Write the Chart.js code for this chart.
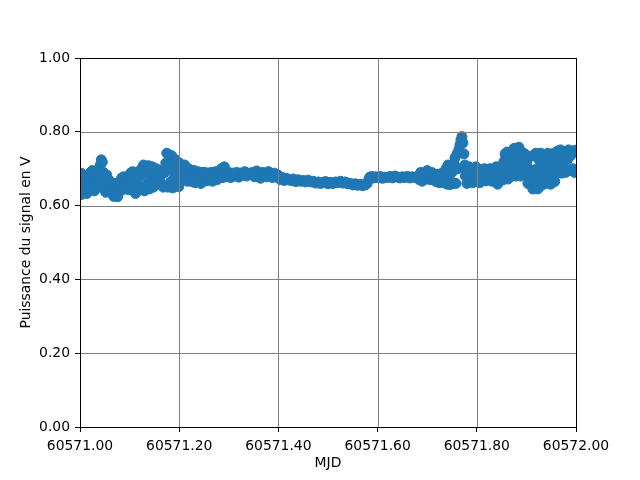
<!DOCTYPE html>
<html>
<head>
<meta charset="utf-8">
<script src="https://cdn.jsdelivr.net/npm/chart.js@4/dist/chart.umd.min.js"></script>
<style>
html,body{margin:0;padding:0;background:#fff;}
#wrap{width:640px;height:480px;}
</style>
</head>
<body>
<div id="wrap"><canvas id="c" width="640" height="480"></canvas></div>
<script>
// ---- data ----
const mjdBase = 60571;
const dayFraction = [
0.000,0.002,0.003,0.006,0.008,0.010,0.012,0.014,0.017,0.019,0.021,0.023,0.025,0.027,0.029,0.031,
0.033,0.035,0.037,0.039,0.041,0.043,0.045,0.047,0.048,0.050,0.052,0.054,0.056,
0.058,0.060,0.062,0.064,0.066,0.068,0.070,0.072,0.074,0.076,0.078,0.080,0.082,
0.084,0.086,0.088,0.090,0.092,0.094,0.096,0.098,
0.100,0.102,0.104,0.106,0.108,0.110,0.112,0.114,0.116,0.118,0.120,0.122,
0.124,0.126,0.128,0.130,0.132,0.134,0.136,0.138,0.140,0.142,0.144,0.146,0.148,0.150,
0.152,0.154,0.156,0.158,0.160,0.162,0.164,0.166,0.168,
0.171,0.173,0.175,0.177,0.179,0.181,0.183,0.185,0.187,0.189,0.191,
0.193,0.195,0.197,0.199,0.201,
0.203,0.205,0.207,0.209,0.211,0.213,0.215,0.217,0.219,0.221,
0.223,0.226,0.228,0.230,0.232,0.235,0.237,0.239,0.242,0.244,0.246,
0.249,0.252,0.255,0.258,0.261,0.264,0.267,0.270,0.273,0.276,0.279,
0.282,0.285,0.288,0.291,0.294,
0.297,0.300,0.304,0.308,0.312,0.316,0.320,0.324,0.328,0.332,0.336,0.340,
0.344,0.348,0.352,0.356,0.360,0.364,0.368,0.372,0.376,0.380,0.384,0.388,
0.392,0.396,0.400,0.404,0.408,0.412,0.416,0.420,
0.425,0.430,0.435,0.440,0.445,0.450,0.455,0.460,0.465,
0.470,0.475,0.480,0.485,0.490,0.495,0.500,0.505,0.510,0.515,0.520,0.525,0.530,0.535,0.540,
0.545,0.550,0.555,0.560,0.565,0.570,0.575,0.579,
0.582,0.584,0.588,0.592,0.596,0.600,0.605,0.610,0.615,0.620,0.625,0.630,0.635,0.640,0.645,0.650,0.655,0.660,0.665,0.670,0.675,0.680,
0.684,0.687,0.690,0.693,
0.697,0.700,0.703,0.706,0.709,0.712,0.715,
0.718,0.721,0.724,0.727,0.730,0.733,0.735,
0.738,0.740,0.742,0.744,0.746,0.748,0.750,0.752,0.754,0.756,0.758,
0.760,0.762,0.764,0.766,0.768,0.770,0.772,0.774,0.776,0.777,0.779,0.780,0.782,
0.784,0.786,0.788,0.790,0.792,0.795,0.798,0.800,0.803,0.806,0.809,
0.812,0.815,0.818,0.821,0.824,0.827,0.830,0.833,0.836,
0.839,0.842,0.845,0.848,0.851,
0.853,0.855,0.857,0.859,0.861,0.863,0.865,0.867,
0.869,0.871,0.873,0.875,0.877,0.879,0.881,0.883,0.885,0.887,0.889,0.891,0.893,0.895,0.897,0.899,
0.901,0.903,0.905,0.907,0.909,
0.911,0.913,0.915,0.917,0.919,0.921,0.923,0.925,0.927,0.929,0.931,0.933,0.935,0.937,0.939,
0.941,0.943,0.945,0.947,0.949,0.951,0.953,0.955,0.957,0.959,
0.961,0.963,0.965,0.967,0.969,0.971,0.973,0.975,0.977,0.979,0.981,0.983,0.985,0.987,0.989,0.991,0.993,0.995,0.997,0.999
];
const signalPower = [
0.660,0.688,0.630,0.650,0.675,0.640,0.668,0.633,0.680,0.655,0.690,0.645,0.695,0.660,0.640,0.686,
0.650,0.672,0.695,0.660,0.710,0.724,0.718,0.690,0.645,0.670,0.636,0.683,0.650,
0.670,0.640,0.662,0.634,0.655,0.625,0.660,0.630,0.650,0.624,0.645,0.662,0.640,
0.675,0.650,0.678,0.645,0.668,0.655,0.675,0.643,
0.665,0.688,0.650,0.692,0.640,0.676,0.633,0.690,0.660,0.685,0.645,0.680,
0.700,0.650,0.710,0.640,0.688,0.705,0.660,0.708,0.645,0.698,0.670,0.705,0.650,0.690,
0.670,0.700,0.685,0.668,0.695,0.680,0.660,0.690,0.650,
0.690,0.715,0.742,0.650,0.738,0.700,0.665,0.735,0.648,0.720,0.680,
0.724,0.660,0.700,0.651,0.715,
0.680,0.705,0.668,0.690,0.710,0.672,0.695,0.666,0.700,0.680,
0.690,0.665,0.685,0.695,0.662,0.680,0.692,0.668,0.685,0.660,0.690,
0.675,0.690,0.667,0.685,0.672,0.690,0.666,0.682,0.692,0.670,0.688,
0.690,0.700,0.676,0.705,0.685,
0.678,0.690,0.676,0.688,0.680,0.690,0.677,0.688,0.682,0.692,0.680,0.688,
0.684,0.690,0.678,0.694,0.684,0.674,0.690,0.686,0.678,0.692,0.688,0.676,
0.688,0.678,0.682,0.670,0.676,0.668,0.674,0.670,
0.668,0.672,0.665,0.670,0.666,0.668,0.664,0.669,0.664,
0.666,0.661,0.664,0.660,0.663,0.665,0.659,0.663,0.660,0.664,0.662,0.666,0.661,0.664,0.659,
0.660,0.656,0.659,0.655,0.658,0.654,0.656,0.660,
0.670,0.677,0.679,0.675,0.678,0.676,0.679,0.674,0.677,0.676,0.679,0.675,0.680,0.677,0.675,0.678,0.676,0.679,0.675,0.678,0.676,0.679,
0.670,0.690,0.666,0.685,
0.672,0.695,0.680,0.670,0.690,0.676,0.685,
0.665,0.685,0.662,0.678,0.688,0.662,0.680,
0.700,0.658,0.710,0.675,0.657,0.705,0.690,0.660,0.715,0.730,0.660,
0.740,0.700,0.752,0.765,0.778,0.787,0.770,0.740,0.710,0.680,0.700,0.660,0.690,
0.705,0.665,0.690,0.700,0.662,0.680,0.705,0.670,0.690,0.662,0.698,
0.680,0.700,0.667,0.690,0.676,0.700,0.666,0.688,0.672,
0.705,0.658,0.690,0.668,0.710,
0.670,0.720,0.740,0.690,0.745,0.672,0.730,0.700,
0.745,0.680,0.720,0.755,0.700,0.680,0.740,0.712,0.758,0.690,0.680,0.745,0.725,0.700,0.740,0.682,
0.720,0.660,0.700,0.733,0.656,
0.690,0.645,0.735,0.670,0.742,0.700,0.645,0.725,0.680,0.742,0.655,0.710,0.690,0.735,0.660,
0.700,0.742,0.672,0.720,0.658,0.735,0.690,0.742,0.665,0.715,
0.700,0.748,0.690,0.730,0.751,0.688,0.720,0.745,0.700,0.690,0.740,0.725,0.751,0.695,0.735,0.748,0.700,0.745,0.690,0.750
];
const xTickValues = [60571.0, 60571.2, 60571.4, 60571.6, 60571.8, 60572.0];
const yTickValues = [0.0, 0.2, 0.4, 0.6, 0.8, 1.0];
const xTitle = 'MJD';
const yTitle = 'Puissance du signal en V';

// ---- chart ----
const n = Math.min(dayFraction.length, signalPower.length);
const points = [];
for (let i = 0; i < n; i++) points.push({x: mjdBase + dayFraction[i], y: signalPower[i]});

const FONT = {family: 'DejaVu Sans', size: 13.9};
const GRID = '#808080';

const overlay = {
  id: 'overlay',
  afterDatasetsDraw(chart) {
    const {ctx, chartArea: a, scales: {x, y}} = chart;
    ctx.save();
    ctx.strokeStyle = GRID;
    ctx.lineWidth = 1;
    ctx.beginPath();
    xTickValues.forEach(v => {
      const px = Math.round(x.getPixelForValue(v)) + 0.5;
      ctx.moveTo(px, a.top); ctx.lineTo(px, a.bottom);
    });
    yTickValues.forEach(v => {
      const py = Math.round(y.getPixelForValue(v)) + 0.5;
      ctx.moveTo(a.left, py); ctx.lineTo(a.right, py);
    });
    ctx.stroke();
    ctx.strokeStyle = '#000';
    ctx.strokeRect(Math.round(a.left) + 0.5, Math.round(a.top) + 0.5,
                   Math.round(a.right - a.left), Math.round(a.bottom - a.top));
    ctx.restore();
  }
};

new Chart(document.getElementById('c'), {
  type: 'scatter',
  data: {
    datasets: [{
      data: points,
      backgroundColor: '#1f77b4',
      borderColor: '#1f77b4',
      pointRadius: 5,
      pointBorderWidth: 1,
      pointHoverRadius: 5,
      clip: 0
    }]
  },
  options: {
    responsive: false,
    animation: false,
    events: [],
    layout: {padding: {left: 0, top: 58, right: 64, bottom: 0}},
    plugins: {legend: {display: false}, tooltip: {enabled: false}},
    scales: {
      x: {
        type: 'linear',
        min: 60571, max: 60572,
        afterFit(s) { s.height = 53; },
        afterBuildTicks(s) { s.ticks = xTickValues.map(v => ({value: v})); },
        ticks: {
          color: '#000', font: FONT, padding: 6, maxRotation: 0, autoSkip: false,
          callback: v => Number(v).toFixed(2)
        },
        grid: {drawOnChartArea: false, drawTicks: true, tickLength: 5, tickColor: '#000', color: GRID},
        border: {display: true, color: '#000', width: 1},
        title: {display: true, text: xTitle, color: '#000', font: FONT, padding: {top: 0, bottom: 8}}
      },
      y: {
        type: 'linear',
        min: 0, max: 1,
        afterFit(s) { s.width = 80; },
        afterBuildTicks(s) { s.ticks = yTickValues.map(v => ({value: v})); },
        ticks: {
          color: '#000', font: FONT, padding: 5, autoSkip: false,
          callback: v => Number(v).toFixed(2)
        },
        grid: {drawOnChartArea: false, drawTicks: true, tickLength: 5, tickColor: '#000', color: GRID},
        border: {display: true, color: '#000', width: 1},
        title: {display: true, text: yTitle, color: '#000', font: FONT, padding: {top: 18, bottom: 0}}
      }
    }
  },
  plugins: [overlay]
});
</script>
</body>
</html>
